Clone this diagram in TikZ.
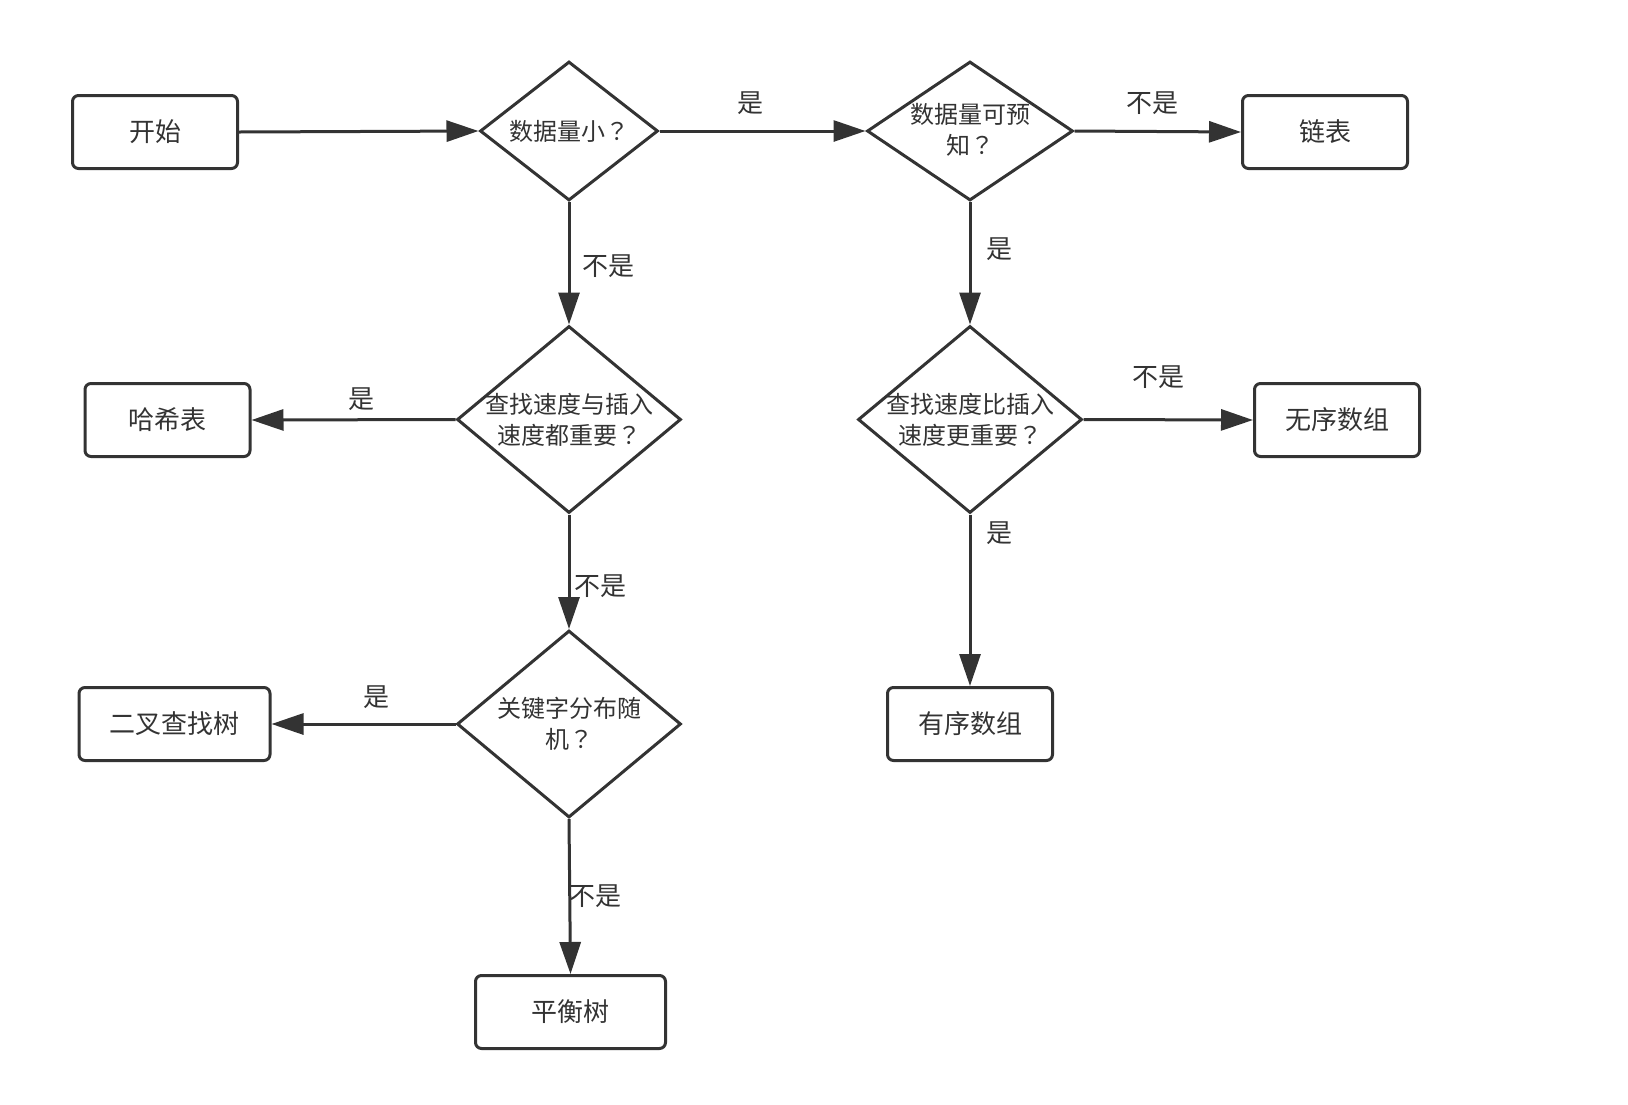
\documentclass[tikz,border=0pt]{standalone}
\usepackage{fontspec}
\setmainfont{Noto Sans CJK SC}
\newfontfamily\jpq{Noto Sans CJK JP}
\newcommand{\qm}{{\jpq ？}}
\usetikzlibrary{shapes.geometric,arrows.meta}
\definecolor{ink}{HTML}{333333}
\begin{document}
\begin{tikzpicture}[x=1pt,y=-1pt,
  every node/.style={text=ink},
  box/.style={draw=ink,line width=3pt,rounded corners=6pt,minimum width=165pt,minimum height=73pt,inner sep=0pt,font=\fontsize{26}{31}\selectfont},
  dia/.style={draw=ink,line width=3pt,shape=diamond,inner sep=0pt},
  dtext/.style={align=center,inner sep=0pt,font=\fontsize{24}{31}\selectfont},
  lbl/.style={inner sep=0pt,font=\fontsize{26}{30}\selectfont},
  arr/.style={draw=ink,line width=3pt,-{Triangle[length=32pt,width=21pt]}}]
\useasboundingbox (0,0) rectangle (1628,1104);
% boxes
\node[box] (start) at (155,132) {开始};
\node[box] (list) at (1325,132) {链表};
\node[box] (hash) at (167.5,420) {哈希表};
\node[box] (unord) at (1337,420) {无序数组};
\node[box,minimum width=191pt] (bst) at (174.5,724) {二叉查找树};
\node[box] (ord) at (970,724) {有序数组};
\node[box,minimum width=190pt] (bal) at (570.5,1012) {平衡树};
% diamonds
\node[dia,minimum width=178pt,minimum height=139pt] (d1) at (569,131) {};
\node[dtext] (d1t) at (d1) {数据量小\qm};
\node[dia,minimum width=206pt,minimum height=139pt] (d2) at (970,131) {};
\node[dtext] (d2t) at ([yshift=1pt]d2) {数据量可预\\知\qm};
\node[dia,minimum width=224pt,minimum height=187pt] (d3) at (569,419.5) {};
\node[dtext] (d3t) at (d3) {查找速度与插入\\速度都重要\qm};
\node[dia,minimum width=224pt,minimum height=187pt] (d4) at (970,419.5) {};
\node[dtext] (d4t) at (d4) {查找速度比插入\\速度更重要\qm};
\node[dia,minimum width=224pt,minimum height=187pt] (d5) at (569,724) {};
\node[dtext] (d5t) at (d5) {关键字分布随\\机\qm};
% connectors
\draw[arr] (start.east) -- (d1.west);
\draw[arr] (d1.east) -- (d2.west);
\draw[arr] (d2.east) -- (list.west);
\draw[arr] (d1.south) -- (d3.north);
\draw[arr] (d2.south) -- (d4.north);
\draw[arr] (d3.west) -- (hash.east);
\draw[arr] (d4.east) -- (unord.west);
\draw[arr] (d3.south) -- (d5.north);
\draw[arr] (d4.south) -- (ord.north);
\draw[arr] (d5.west) -- (bst.east);
\draw[arr] (d5.south) -- (bal.north);
% labels
\node[lbl] (l1) at (750,103) {是};
\node[lbl] (l2) at (1152,103) {不是};
\node[lbl] (l3) at (608,266) {不是};
\node[lbl] (l4) at (999,249) {是};
\node[lbl] (l5) at (361,399) {是};
\node[lbl] (l6) at (1158,377) {不是};
\node[lbl] (l7) at (600,586) {不是};
\node[lbl] (l8) at (999,533) {是};
\node[lbl] (l9) at (376,697) {是};
\node[lbl] (l10) at (595,896) {不是};
\end{tikzpicture}
\end{document}
